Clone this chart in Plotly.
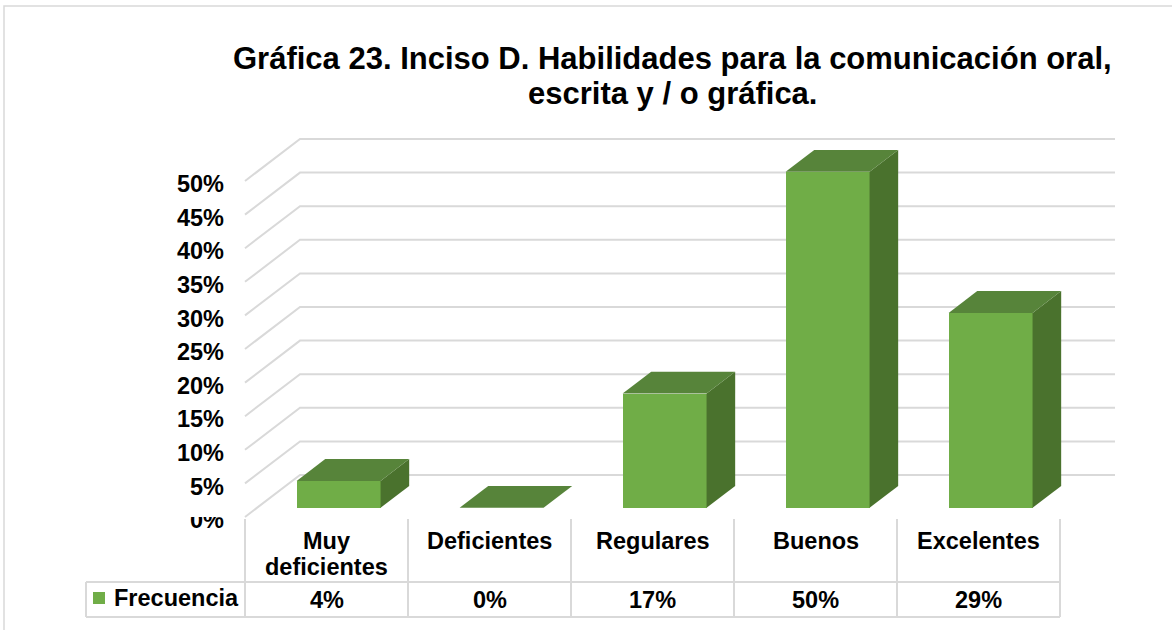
import plotly.graph_objects as go

# ---------------- data ----------------
categories = ["Muy deficientes", "Deficientes", "Regulares", "Buenos", "Excelentes"]
header_lines = [["Muy", "deficientes"], ["Deficientes"], ["Regulares"], ["Buenos"], ["Excelentes"]]
values = [4, 0, 17, 50, 29]
value_labels = ["4%", "0%", "17%", "50%", "29%"]
series_name = "Frecuencia"
y_ticks = [0, 5, 10, 15, 20, 25, 30, 35, 40, 45, 50]
y_tick_labels = ["0%", "5%", "10%", "15%", "20%", "25%", "30%", "35%", "40%", "45%", "50%"]
title_lines = ["Gráfica 23. Inciso D. Habilidades para la comunicación oral,",
               "escrita y / o gráfica."]

# ---------------- layout geometry ----------------
W, H = 1172, 630
CAT_PX = 163.0        # width of one category column in px
LEFT_PX = 245.0       # left edge of the category area
FLOOR_PX = 517.0      # front floor edge (value 0)
PX_PER_UNIT = 6.72    # px per 1 %
DEPTH_X_PX, DEPTH_Y_PX = 55.0, 42.0

def X(px):
    return (px - LEFT_PX) / CAT_PX - 0.5

def Y(py):
    return (FLOOR_PX - py) / PX_PER_UNIT

DX = DEPTH_X_PX / CAT_PX
DY = DEPTH_Y_PX / PX_PER_UNIT
D1, D2 = 0.22, 0.74   # bar front/back depth fractions
BW = 0.515            # bar width (category units)

FRONT = "#70ad47"
TOP = "#57843a"
SIDE = "#4a722d"
GRID = "#d9d9d9"
FONT = "Liberation Sans, Arial, sans-serif"

n = len(categories)
right_edge = n - 0.5

fig = go.Figure()

# front faces
fig.add_trace(go.Bar(
    x=[i + DX * D1 for i in range(n)], y=values, base=DY * D1, width=BW,
    marker=dict(color=FRONT, line=dict(width=0)), hoverinfo="skip", showlegend=False))

# top and side faces
ddx, ddy = DX * (D2 - D1), DY * (D2 - D1)
for i, v in enumerate(values):
    xl = i + DX * D1 - BW / 2
    xr = i + DX * D1 + BW / 2
    y0 = DY * D1
    y1 = v + DY * D1
    fig.add_trace(go.Scatter(
        x=[xr, xr + ddx, xr + ddx, xr, xr], y=[y0, y0 + ddy, y1 + ddy, y1, y0],
        fill="toself", fillcolor=SIDE, mode="lines", line=dict(width=0, color=SIDE),
        hoverinfo="skip", showlegend=False))
    fig.add_trace(go.Scatter(
        x=[xl, xr, xr + ddx, xl + ddx, xl], y=[y1, y1, y1 + ddy, y1 + ddy, y1],
        fill="toself", fillcolor=TOP, mode="lines", line=dict(width=0, color=TOP),
        hoverinfo="skip", showlegend=False))

shapes = []
# back wall / side wall gridlines
for v in y_ticks:
    path = (f"M {-0.5},{v} L {-0.5 + DX},{v + DY} L {right_edge + DX},{v + DY}")
    shapes.append(dict(type="path", path=path, xref="x", yref="y", layer="below",
                       line=dict(color=GRID, width=2)))

# data table
t_top, t_mid, t_bot = Y(519), Y(582), Y(617)
t_left = X(86)
for k in range(n + 1):
    xk = -0.5 + k
    shapes.append(dict(type="line", xref="x", yref="y", x0=xk, x1=xk, y0=t_top, y1=t_bot,
                       line=dict(color=GRID, width=2), layer="below"))
for yy in (t_mid, t_bot):
    shapes.append(dict(type="line", xref="x", yref="y", x0=t_left, x1=right_edge, y0=yy, y1=yy,
                       line=dict(color=GRID, width=2), layer="below"))
shapes.append(dict(type="line", xref="x", yref="y", x0=t_left, x1=t_left, y0=t_mid, y1=t_bot,
                   line=dict(color=GRID, width=2), layer="below"))
# legend key
shapes.append(dict(type="rect", xref="x", yref="y", x0=X(93), x1=X(105), y0=Y(604), y1=Y(592),
                   fillcolor=FRONT, line=dict(width=0)))
# clip of the 0% label (as in the original)
shapes.append(dict(type="rect", xref="paper", yref="paper", x0=150 / W, x1=238 / W,
                   y0=1 - 517 / H, y1=1 - 502 / H, fillcolor="white", line=dict(width=0),
                   layer="above"))
# chart border
shapes.append(dict(type="rect", xref="paper", yref="paper", x0=4 / W, x1=1.02, y0=-0.02,
                   y1=1 - 6 / H, line=dict(color=GRID, width=1.5), layer="below"))

annotations = []
# title
for j, (t, py) in enumerate(zip(title_lines, (58, 93))):
    annotations.append(dict(text=t, xref="paper", yref="paper", x=672 / W, y=1 - py / H,
                            xanchor="center", yanchor="middle", showarrow=False,
                            font=dict(family=FONT, size=31, color="black", weight="bold")))
# table header
for i, lines in enumerate(header_lines):
    for j, line in enumerate(lines):
        annotations.append(dict(text=line, x=i, y=Y(541 + 26 * j), xref="x", yref="y",
                                showarrow=False, xanchor="center", yanchor="middle",
                                font=dict(family=FONT, size=23.5, color="black", weight="bold")))
# table values
for i, lab in enumerate(value_labels):
    annotations.append(dict(text=lab, x=i, y=Y(600), xref="x", yref="y", showarrow=False,
                            xanchor="center", yanchor="middle",
                            font=dict(family=FONT, size=23.5, color="black", weight="bold")))
annotations.append(dict(text=series_name, x=X(112), y=Y(598), xref="x", yref="y",
                        showarrow=False, xanchor="left", yanchor="middle",
                        font=dict(family=FONT, size=23.5, color="black", weight="bold")))

fig.update_layout(
    width=W, height=H, margin=dict(l=0, r=0, t=0, b=0),
    paper_bgcolor="white", plot_bgcolor="white",
    showlegend=False, bargap=0,
    xaxis=dict(range=[X(0), X(W)], visible=False, fixedrange=True),
    yaxis=dict(range=[Y(H), Y(0)], anchor="free", position=224 / W, side="left",
               tickmode="array", tickvals=y_ticks, ticktext=y_tick_labels,
               showgrid=False, zeroline=False, ticklabelshift=3,
               showline=False, ticks="", automargin=False, fixedrange=True,
               tickfont=dict(family=FONT, size=23.5, color="black", weight="bold")),
    shapes=shapes, annotations=annotations,
)

fig.write_html("out.html", config={"displayModeBar": False},
               post_script="document.body.style.margin='0px';document.body.style.overflow='hidden';")
